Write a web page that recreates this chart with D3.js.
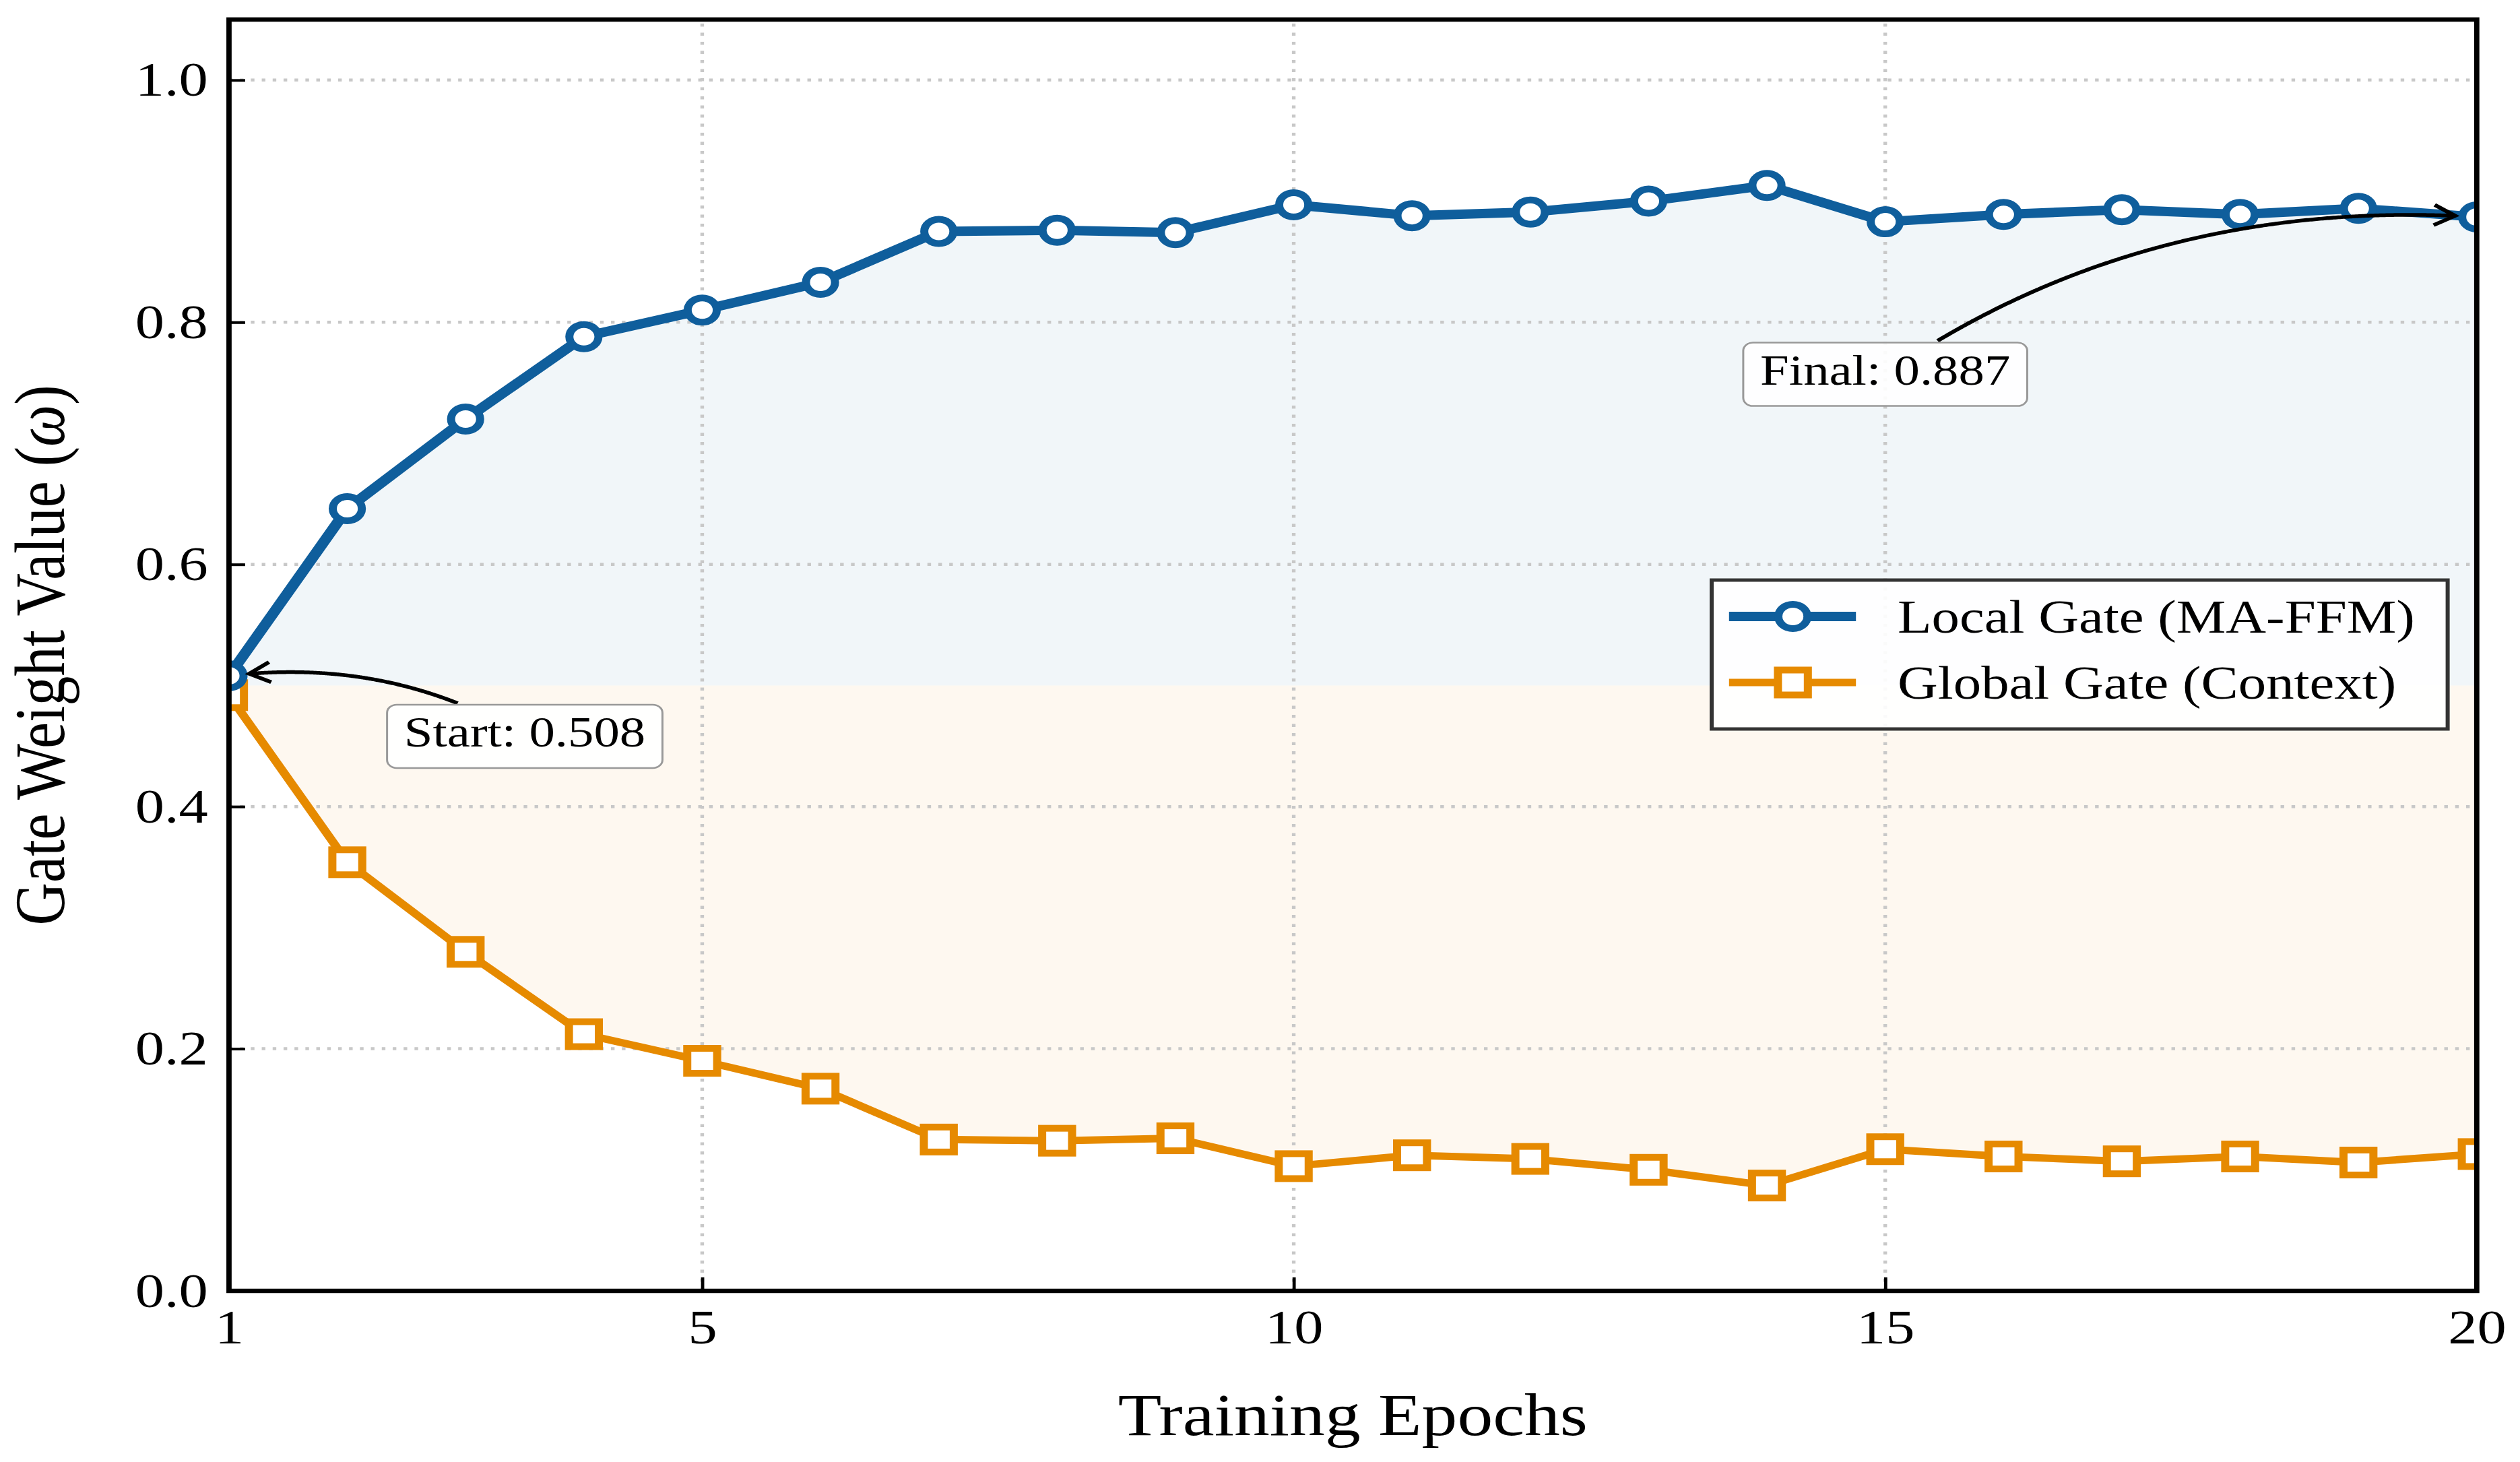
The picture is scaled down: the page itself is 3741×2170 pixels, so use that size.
<!DOCTYPE html>
<html>
<head>
<meta charset="utf-8">
<script src="https://cdn.jsdelivr.net/npm/d3@7"></script>
<style>
  html, body { margin: 0; padding: 0; background: #fff; }
  svg { display: block; }
  text { font-family: "Liberation Serif", "Times New Roman", serif; fill: #000; }
</style>
</head>
<body>
<svg id="chart"></svg>
<script>
// values
var epochs = [1, 2, 3, 4, 5, 6, 7, 8, 9, 10, 11, 12, 13, 14, 15, 16, 17, 18, 19, 20];
var localGate = [0.508, 0.646, 0.720, 0.788, 0.810, 0.833, 0.875, 0.876, 0.874, 0.897,
                 0.888, 0.891, 0.900, 0.913, 0.883, 0.889, 0.893, 0.889, 0.894, 0.887];
var globalGate = [0.492, 0.354, 0.280, 0.212, 0.190, 0.167, 0.125, 0.124, 0.126, 0.103,
                  0.112, 0.109, 0.100, 0.087, 0.117, 0.111, 0.107, 0.111, 0.106, 0.113];
var seriesNames = ["Local Gate (MA-FFM)", "Global Gate (Context)"];
var xTicks = [1, 5, 10, 15, 20];
var yTicks = [0.0, 0.2, 0.4, 0.6, 0.8, 1.0];
var notes = [
  {label: "Start: 0.508", epoch: 1, value: 0.508},
  {label: "Final: 0.887", epoch: 20, value: 0.887}
];

var W = 3741, H = 2170, stretch = 1.2;   // the original figure is stretched horizontally
var w = W / stretch;
var serif = "Liberation Serif, Times New Roman, serif";
var blue = "#0f5e9c", orange = "#e68a00";

var svg = d3.select("#chart")
    .attr("width", W).attr("height", H)
    .attr("viewBox", "0 0 " + w + " " + H)
    .attr("preserveAspectRatio", "none");

var x = d3.scaleLinear().domain([1, 20]).range([283.3, 3064]);
var y = d3.scaleLinear().domain([0, 1.05]).range([1916, 29]);

var data = epochs.map(function(e, i) {
  return {epoch: e, local: localGate[i], global: globalGate[i]};
});

svg.append("defs").append("clipPath").attr("id", "plot-clip")
  .append("rect")
    .attr("x", x(1)).attr("y", y(1.05))
    .attr("width", x(20) - x(1)).attr("height", y(0) - y(1.05));

var plot = svg.append("g").attr("clip-path", "url(#plot-clip)");

// shaded regions around 0.5
plot.append("path").datum(data)
    .attr("fill", blue).attr("fill-opacity", 0.06)
    .attr("d", d3.area().x(function(d) { return x(d.epoch); })
      .y0(y(0.5)).y1(function(d) { return y(d.local); }));
plot.append("path").datum(data)
    .attr("fill", orange).attr("fill-opacity", 0.06)
    .attr("d", d3.area().x(function(d) { return x(d.epoch); })
      .y0(y(0.5)).y1(function(d) { return y(d.global); }));

// grid
var grid = plot.append("g")
    .attr("stroke", "#c8c8c8").attr("stroke-width", 4.5).attr("stroke-dasharray", "4.5 9");
grid.selectAll(".gx").data(xTicks).enter().append("line")
    .attr("x1", function(d) { return x(d); }).attr("x2", function(d) { return x(d); })
    .attr("y1", y(0)).attr("y2", y(1.05));
grid.selectAll(".gy").data(yTicks).enter().append("line")
    .attr("y1", function(d) { return y(d); }).attr("y2", function(d) { return y(d); })
    .attr("x1", x(1)).attr("x2", x(20));

// global gate
plot.append("path").datum(data)
    .attr("fill", "none").attr("stroke", orange).attr("stroke-width", 11)
    .attr("stroke-linejoin", "round")
    .attr("d", d3.line().x(function(d) { return x(d.epoch); }).y(function(d) { return y(d.global); }));
plot.selectAll(".sq").data(data).enter().append("rect")
    .attr("x", function(d) { return x(d.epoch) - 18.5; })
    .attr("y", function(d) { return y(d.global) - 18.5; })
    .attr("width", 37).attr("height", 37)
    .attr("fill", "#fff").attr("stroke", orange).attr("stroke-width", 10);

// local gate
plot.append("path").datum(data)
    .attr("fill", "none").attr("stroke", blue).attr("stroke-width", 14)
    .attr("stroke-linejoin", "round")
    .attr("d", d3.line().x(function(d) { return x(d.epoch); }).y(function(d) { return y(d.local); }));
plot.selectAll(".ci").data(data).enter().append("circle")
    .attr("cx", function(d) { return x(d.epoch); })
    .attr("cy", function(d) { return y(d.local); })
    .attr("r", 18)
    .attr("fill", "#fff").attr("stroke", blue).attr("stroke-width", 10);

// axes, ticks pointing in
var yAxis = d3.axisLeft(y).tickValues(yTicks).tickFormat(d3.format(".1f"))
    .tickSizeInner(-20).tickSizeOuter(0).tickPadding(26);
var gy = svg.append("g").attr("transform", "translate(" + x(1) + ",0)").call(yAxis);
gy.attr("font-size", 72).attr("font-family", serif);
gy.select(".domain").remove();
gy.selectAll(".tick line").attr("stroke", "#000").attr("stroke-width", 4);

var xAxis = d3.axisBottom(x).tickValues(xTicks).tickFormat(d3.format("d"))
    .tickSizeInner(-20).tickSizeOuter(0).tickPadding(27);
var gx = svg.append("g").attr("transform", "translate(0," + y(0) + ")").call(xAxis);
gx.attr("font-size", 72).attr("font-family", serif);
gx.select(".domain").remove();
gx.selectAll(".tick line").attr("stroke", "#000").attr("stroke-width", 4);

svg.append("rect")
    .attr("x", x(1)).attr("y", y(1.05))
    .attr("width", x(20) - x(1)).attr("height", y(0) - y(1.05))
    .attr("fill", "none").attr("stroke", "#000").attr("stroke-width", 6.5);

// axis labels
svg.append("text")
    .attr("x", (x(1) + x(20)) / 2).attr("y", 2130)
    .attr("text-anchor", "middle").attr("font-size", 88)
    .text("Training Epochs");

var yl = svg.append("text")
    .attr("transform", "translate(79," + (y(0) + y(1.05)) / 2 + ") rotate(-90)")
    .attr("text-anchor", "middle").attr("font-size", 88);
yl.append("tspan").text("Gate Weight Value (");
yl.append("tspan").attr("font-style", "italic").text("ω");
yl.append("tspan").text(")");

// legend
var legend = svg.append("g");
legend.append("rect")
    .attr("x", 2117.5).attr("y", 861).attr("width", 910.5).attr("height", 221)
    .attr("fill", "#fff").attr("fill-opacity", 0.9)
    .attr("stroke", "#333").attr("stroke-width", 5);
var rows = [915, 1013];
seriesNames.forEach(function(name, i) {
  var col = i === 0 ? blue : orange;
  var ry = rows[i];
  legend.append("line")
      .attr("x1", 2139).attr("x2", 2296).attr("y1", ry).attr("y2", ry)
      .attr("stroke", col).attr("stroke-width", i === 0 ? 14 : 11);
  if (i === 0) {
    legend.append("circle").attr("cx", 2218).attr("cy", ry).attr("r", 18)
        .attr("fill", "#fff").attr("stroke", col).attr("stroke-width", 10);
  } else {
    legend.append("rect").attr("x", 2218 - 18.5).attr("y", ry - 18.5)
        .attr("width", 37).attr("height", 37)
        .attr("fill", "#fff").attr("stroke", col).attr("stroke-width", 10);
  }
  legend.append("text")
      .attr("x", 2347.5).attr("y", ry).attr("dy", "0.35em")
      .attr("font-size", 69)
      .text(name);
});

// annotations: text box centre in data units, arc3-style curved arrow
var noteLayout = [
  {tx: 3.5, ty: 0.458, rad: 0.2},
  {tx: 15, ty: 0.757, rad: -0.2}
];

function qpt(p0, c, p2, t) {
  var u = 1 - t;
  return [u * u * p0[0] + 2 * u * t * c[0] + t * t * p2[0],
          u * u * p0[1] + 2 * u * t * c[1] + t * t * p2[1]];
}

notes.forEach(function(n, i) {
  var lay = noteLayout[i];
  var cx = x(lay.tx), cy = y(lay.ty);
  var g = svg.append("g");
  var arrow = g.append("g");
  var box = g.append("rect");
  var txt = g.append("text")
      .attr("x", cx).attr("y", cy + 15)
      .attr("text-anchor", "middle").attr("font-size", 64)
      .text(n.label);
  var tw = txt.node().getComputedTextLength() + 42, th = 94;
  var bx = cx - tw / 2, by = cy - th / 2;
  box.attr("x", bx).attr("y", by).attr("width", tw).attr("height", th)
      .attr("rx", 12).attr("ry", 12)
      .attr("fill", "#fff").attr("fill-opacity", 0.9)
      .attr("stroke", "#999").attr("stroke-width", 2.5);

  var p0 = [cx, cy], p2 = [x(n.epoch), y(n.value)];
  var dx = p2[0] - p0[0], dy = p2[1] - p0[1];
  var c = [(p0[0] + p2[0]) / 2 - lay.rad * dy, (p0[1] + p2[1]) / 2 + lay.rad * dx];
  var pts = [];
  for (var k = 0; k <= 400; k++) {
    var p = qpt(p0, c, p2, k / 400);
    var inside = p[0] > bx - 2 && p[0] < bx + tw + 2 && p[1] > by - 2 && p[1] < by + th + 2;
    var far = Math.hypot(p2[0] - p[0], p2[1] - p[1]) >= 25;
    if (!inside && far) pts.push(p);
  }
  arrow.append("path")
      .attr("d", d3.line()(pts))
      .attr("fill", "none").attr("stroke", "#000").attr("stroke-width", 5.5);
  var e = pts[pts.length - 1], pb = pts[pts.length - 4];
  var ang = Math.atan2(e[1] - pb[1], e[0] - pb[0]);
  var hl = 30, ha = Math.PI / 6;
  var a1 = [e[0] - hl * Math.cos(ang - ha), e[1] - hl * Math.sin(ang - ha)];
  var a2 = [e[0] - hl * Math.cos(ang + ha), e[1] - hl * Math.sin(ang + ha)];
  arrow.append("path")
      .attr("d", d3.line()([a1, e, a2]))
      .attr("fill", "none").attr("stroke", "#000").attr("stroke-width", 5.5)
      .attr("stroke-linejoin", "miter");
});
</script>
</body>
</html>
